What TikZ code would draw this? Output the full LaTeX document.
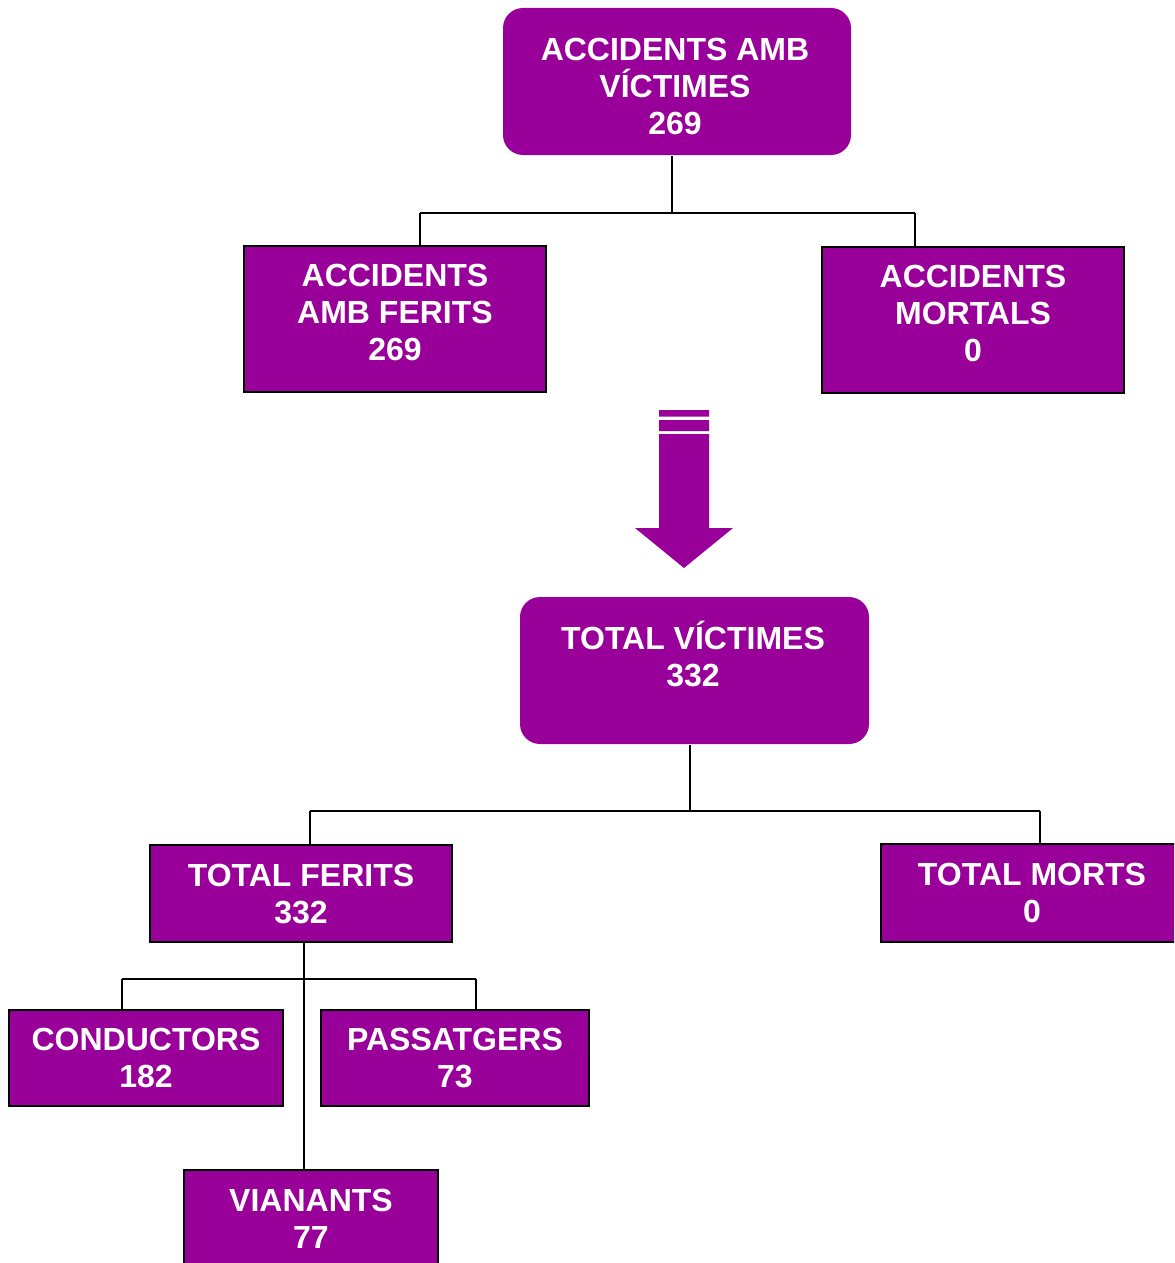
\documentclass[tikz,border=0pt]{standalone}
\usepackage{fontspec}
\setmainfont{Liberation Sans}
\usepackage{tikz}
\usetikzlibrary{calc}
\definecolor{boxpurple}{HTML}{990099}

\begin{document}
\begin{tikzpicture}[x=0.5pt,y=-0.5pt,line width=1pt]
  \tikzstyle{boxtext} = [text=white,align=center,inner sep=0pt,font=\fontsize{16}{18.5}\selectfont\bfseries]
  \tikzstyle{purplebox} = [boxtext,draw=black,fill=boxpurple]
  \tikzstyle{roundedbox} = [fill=boxpurple,rounded corners=10pt,inner sep=0pt]
  \tikzstyle{link} = [draw=black,line width=1pt]
  %
  \clip (0,0) rectangle (1174,1263);
  % Accidents.
  \node[roundedbox,minimum width=174pt,minimum height=73.5pt] (top) at (677,81.5) {};
  \node[boxtext] (toptext) at (675,86.5) {ACCIDENTS AMB\\VÍCTIMES\\269};
  \node[purplebox,minimum width=151pt,minimum height=73pt] (ferits) at (395,319) {};
  \node[boxtext] (feritstext) at (395,312) {ACCIDENTS\\AMB FERITS\\269};
  \node[purplebox,minimum width=151pt,minimum height=73pt] (mortals) at (973,320) {};
  \node[boxtext] (mortalstext) at (973,313) {ACCIDENTS\\MORTALS\\0};
  % Victims.
  \node[roundedbox,minimum width=174.5pt,minimum height=73.5pt] (victimes) at (694.5,670.5) {};
  \node[boxtext] (victimestext) at (693,654) {TOTAL VÍCTIMES\\332};
  \node[purplebox,minimum width=151pt,minimum height=48.5pt] (totalferits) at (301,893.5) {TOTAL FERITS\\332};
  \node[purplebox,minimum width=151pt,minimum height=49pt] (totalmorts) at (1032,893) {TOTAL MORTS\\0};
  % Injured.
  \node[purplebox,minimum width=137pt,minimum height=48pt] (conductors) at (146,1058) {CONDUCTORS\\182};
  \node[purplebox,minimum width=134pt,minimum height=48pt] (passatgers) at (455,1058) {PASSATGERS\\73};
  \node[purplebox,minimum width=127pt,minimum height=48.5pt] (vianants) at (311,1218.5) {VIANANTS\\77};
  % Block arrow.
  \fill[boxpurple] (659,410) rectangle (709,416.5) (659,420) rectangle (709,431);
  \fill[boxpurple] (659,434) -- (709,434) -- (709,528) -- (733,528) -- (684,568)
    -- (635,528) -- (659,528) -- cycle;
  % Draw lines.
  \coordinate (topjoin) at (672,213);
  \coordinate (feritsjoin) at (420,213);
  \coordinate (mortalsjoin) at (915,213);
  \draw[link] (topjoin |- top.south) -- (topjoin) (feritsjoin) -- (mortalsjoin)
    (feritsjoin) -- (feritsjoin |- ferits.north) (mortalsjoin) -- (mortalsjoin |- mortals.north);
  \coordinate (victimesjoin) at (690,811);
  \coordinate (totalferitsjoin) at (310,811);
  \coordinate (totalmortsjoin) at (1040,811);
  \draw[link] (victimesjoin |- victimes.south) -- (victimesjoin) (totalferitsjoin) -- (totalmortsjoin)
    (totalferitsjoin) -- (totalferitsjoin |- totalferits.north) (totalmortsjoin) -- (totalmortsjoin |- totalmorts.north);
  \coordinate (injuredjoin) at (304,979);
  \coordinate (conductorsjoin) at (122,979);
  \coordinate (passatgersjoin) at (476,979);
  \draw[link] (injuredjoin |- totalferits.south) -- (injuredjoin |- vianants.north) (conductorsjoin) -- (passatgersjoin)
    (conductorsjoin) -- (conductorsjoin |- conductors.north) (passatgersjoin) -- (passatgersjoin |- passatgers.north);
\end{tikzpicture}
\end{document}
